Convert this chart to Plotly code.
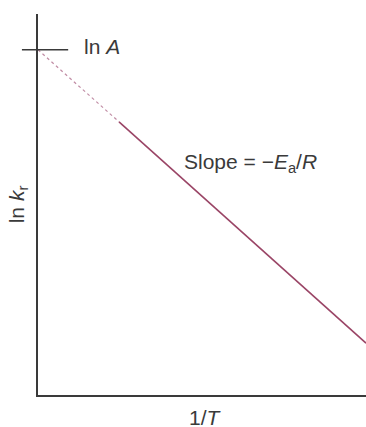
import plotly.graph_objects as go

# Arrhenius plot: ln k_r against 1/T (schematic, no tick values)
inv_T_extrap = [0.0, 0.247]
ln_k_extrap = [0.906, 0.717]
inv_T_meas = [0.247, 1.0]
ln_k_meas = [0.717, 0.136]
ln_A = 0.906

line_col = "#9a4566"
ink = "#3a3a3a"
font = "Liberation Sans, Arial, sans-serif"

fig = go.Figure()
fig.add_trace(go.Scatter(x=inv_T_extrap, y=ln_k_extrap, mode="lines",
                         line=dict(color="#c08ca4", width=1.2, dash="dot"), hoverinfo="skip"))
fig.add_trace(go.Scatter(x=inv_T_meas, y=ln_k_meas, mode="lines",
                         line=dict(color=line_col, width=1.6), hoverinfo="skip"))

# tick crossing the axis at ln A
fig.add_shape(type="line", xref="paper", yref="y", x0=-0.049, x1=0.092, y0=ln_A, y1=ln_A,
              line=dict(color=ink, width=1.5))
fig.add_annotation(x=0.134, y=ln_A, xref="x", yref="y", text="ln <i>A</i>", showarrow=False,
                   xanchor="left", yanchor="middle", yshift=3, font=dict(size=21, color=ink, family=font))
fig.add_annotation(x=0.44, y=0.608, xref="x", yref="y",
                   text="Slope = \u2212<i>E</i><sub>a</sub>/<i>R</i>", showarrow=False,
                   xanchor="left", yanchor="middle", font=dict(size=21, color=ink, family=font))
# x axis title, placed a little lower than plotly's default
fig.add_annotation(x=0.51, y=-0.06, xref="paper", yref="paper", text="1/<i>T</i>", showarrow=False,
                   xanchor="center", yanchor="middle", font=dict(size=21, color=ink, family=font))

fig.update_xaxes(range=[0, 1], showline=True, linecolor=ink, linewidth=2, showgrid=False,
                 zeroline=False, showticklabels=False, ticks="", automargin=False)
fig.update_yaxes(range=[0, 1], showline=True, linecolor=ink, linewidth=2, showgrid=False,
                 zeroline=False, showticklabels=False, ticks="",
                 title=dict(text="ln <i>k</i><sub>r</sub>", standoff=6, font=dict(size=21, color=ink, family=font)),
                 automargin=False)

fig.update_layout(width=366, height=427, margin=dict(l=38, r=0, t=14, b=32),
                  plot_bgcolor="white", paper_bgcolor="white", showlegend=False,
                  font=dict(family=font, color=ink))
fig.write_html("out.html", config={"displayModeBar": False},
               post_script="document.body.style.margin='0';")
